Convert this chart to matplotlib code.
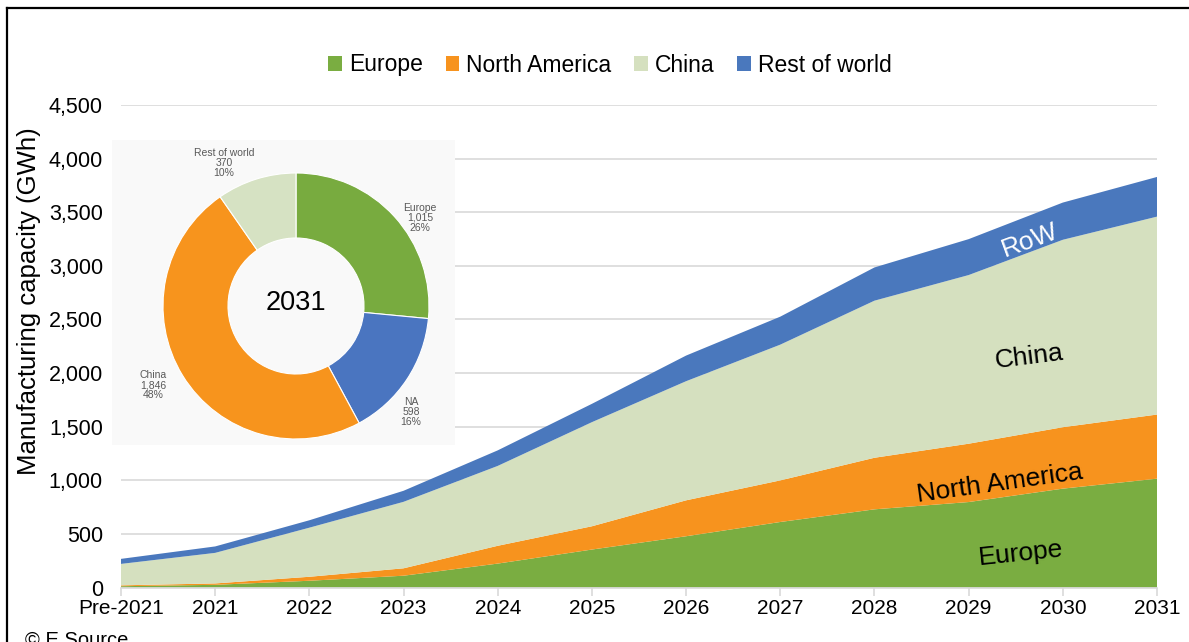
import numpy as np
import matplotlib
matplotlib.use("Agg")
import matplotlib.pyplot as plt
from matplotlib.lines import Line2D

plt.rcParams['font.family'] = ['Liberation Sans', 'DejaVu Sans']

# data (GWh)
years = ['Pre-2021', '2021', '2022', '2023', '2024', '2025', '2026',
         '2027', '2028', '2029', '2030', '2031']
europe = [12, 25, 63, 110, 223, 354, 478, 611, 729, 797, 922, 1015]
north_america = [8, 13, 37, 69, 166, 217, 335, 388, 481, 544, 573, 598]
china = [200, 285, 458, 620, 745, 971, 1111, 1266, 1465, 1573, 1748, 1846]
rest_of_world = [47, 60, 69, 103, 145, 171, 239, 261, 310, 335, 347, 370]

# inset donut (2031)
donut_labels = ['Europe', 'NA', 'China', 'Rest of world']
donut_values = [1015, 598, 1846, 370]
donut_pct = ['26%', '16%', '48%', '10%']

c_eu = '#7aad41'
c_na = '#f7931e'
c_cn = '#d5e0bf'
c_row = '#4a78bd'

W, H = 1189, 642
fig = plt.figure(figsize=(W / 100, H / 100), dpi=100)

ax = fig.add_axes([121 / W, 1 - 587.5 / H, (1157 - 121) / W, (587.5 - 105) / H])
x = np.arange(len(years))
polys = ax.stackplot(x, europe, north_america, china, rest_of_world,
                     colors=[c_eu, c_na, c_cn, c_row], linewidth=0,
                     labels=['Europe', 'North America', 'China', 'Rest of world'],
                     zorder=2)

ax.set_xlim(0, len(years) - 1)
ax.set_ylim(0, 4500)
ax.set_yticks(np.arange(0, 4501, 500))
ax.set_yticklabels([f'{v:,}' for v in range(0, 4501, 500)])
ax.set_xticks(x)
ax.set_xticklabels(years)
ax.grid(axis='y', color='#d9d9d9', linewidth=1.2, zorder=0)
ax.set_axisbelow(True)
for s in ['top', 'right', 'left']:
    ax.spines[s].set_visible(False)
ax.spines['bottom'].set_color('#d9d9d9')
ax.spines['bottom'].set_linewidth(1.2)
ax.tick_params(axis='y', length=0, labelsize=15.5, pad=13)
ax.tick_params(axis='x', length=6, color='#d9d9d9', width=1.2, labelsize=15, pad=2)
fig.text(29 / W, 1 - 301 / H, 'Manufacturing capacity (GWh)', fontsize=18.5,
         rotation=90, ha='center', va='center')

# labels inside the areas
ax.text(9.55, 320, 'Europe', fontsize=19, rotation=6, ha='center', va='center', zorder=3)
ax.text(9.33, 970, 'North America', fontsize=19, rotation=8, ha='center', va='center', zorder=3)
ax.text(9.64, 2150, 'China', fontsize=19, rotation=7, ha='center', va='center', zorder=3)
ax.text(9.65, 3235, 'RoW', fontsize=19, rotation=20, ha='center', va='center',
        color='white', zorder=3)

fig.legend(handles=polys, labels=['Europe', 'North America', 'China', 'Rest of world'],
           loc='center', bbox_to_anchor=(0.513, 1 - 65 / H), ncol=4, frameon=False,
           fontsize=16.5, handlelength=0.6, handleheight=0.6, handletextpad=0.3,
           columnspacing=1.0)

# inset donut, drawn in pixel-like coordinates
ix0, ix1, iy0, iy1 = 112, 455, 140, 445
iax = fig.add_axes([ix0 / W, 1 - iy1 / H, (ix1 - ix0) / W, (iy1 - iy0) / H])
iax.set_facecolor('#f9f9f9')
cx, cy = 296, H - 306
iax.pie(donut_values, colors=['#78ab3f', '#4a75c0', '#f7941d', '#d6e2c3'],
        startangle=90, counterclock=False, center=(cx, cy), radius=133,
        wedgeprops=dict(width=65, edgecolor='white', linewidth=0.8), frame=True)
iax.set_xlim(ix0, ix1)
iax.set_ylim(H - iy1, H - iy0)
iax.set_aspect('auto')
iax.set_xticks([])
iax.set_yticks([])
for s in iax.spines.values():
    s.set_visible(False)
iax.text(cx, cy + 3, '2031', fontsize=19.5, ha='center', va='center')
label_pos = [(420, 218), (411, 412), (153, 385), (224, 163)]
for (px, py), lab, val, pct in zip(label_pos, donut_labels, donut_values, donut_pct):
    iax.text(px, H - py, f'{lab}\n{val:,}\n{pct}', fontsize=7.5, color='#595959',
             ha='center', va='center', linespacing=0.95)

# frame lines and source note
fig.add_artist(Line2D([7 / W, 1], [1 - 8 / H, 1 - 8 / H], color='black', linewidth=1.6))
fig.add_artist(Line2D([7 / W, 7 / W], [0, 1 - 8 / H], color='black', linewidth=1.6))
fig.text(25 / W, 1 - 631 / H, '© E Source', fontsize=14.5, va='top', ha='left')

fig.savefig('out.png', dpi=100)
